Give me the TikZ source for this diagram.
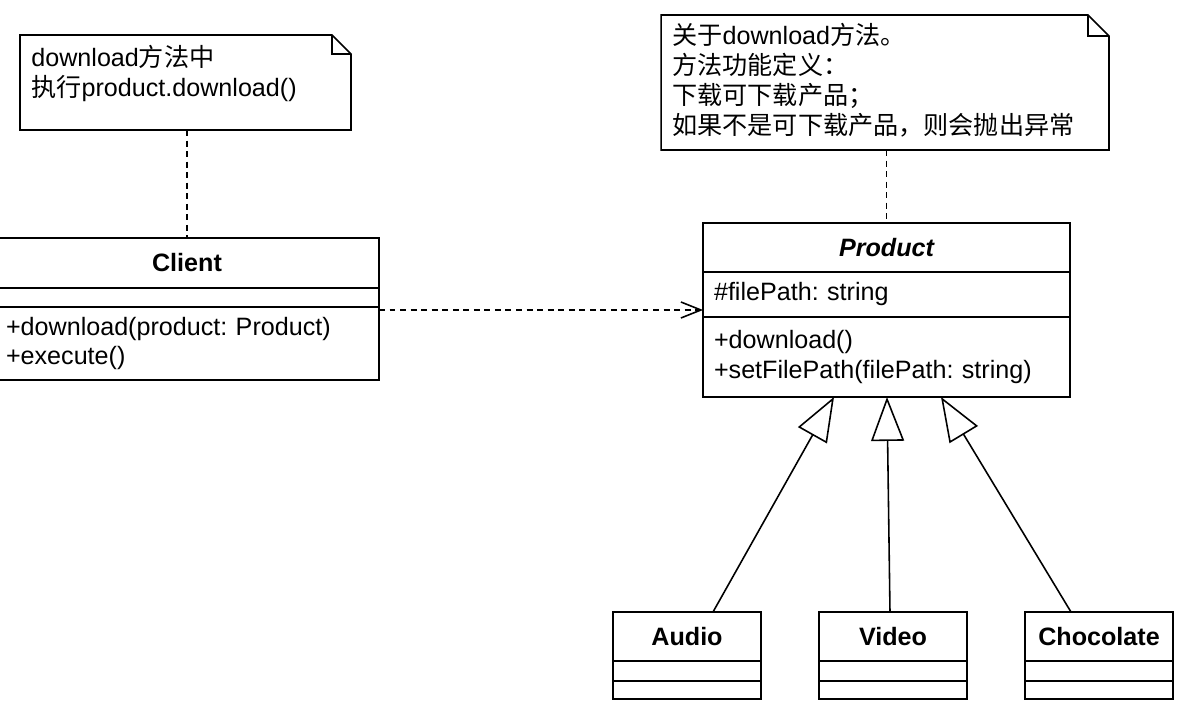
\documentclass[tikz,border=0pt]{standalone}
\usepackage{fontspec}
\setmainfont{Liberation Sans}
\newfontfamily\cjk{Noto Sans CJK SC}
\usetikzlibrary{positioning,calc,arrows.meta}
\frenchspacing
\newcommand\umlsize{\fontsize{14.3}{17}\selectfont}
\tikzset{
  uml/.style={draw, line width=0.9pt, outer sep=0pt, inner sep=0pt, minimum width=#1},
  head/.style={font=\umlsize\bfseries},
  field/.style={align=left, inner xsep=0.22cm},
  notebox/.style={inner sep=0pt, outer sep=0pt},
  notetext/.style={align=left, inner sep=0pt, anchor=north west},
  fold/.style={line width=0.9pt, line join=miter},
  tether/.style={line width=0.9pt, dash pattern=on 3.4pt off 2.6pt},
  depend/.style={tether, -{Straight Barb[length=0.4cm, width=0.32cm]}},
  extends/.style={line width=0.9pt, -{Triangle[open, length=0.88cm, width=0.66cm]}},
}

\begin{document}
\begin{tikzpicture}[x=0.02cm, y=-0.02cm, font=\umlsize]
\clip (0,0) rectangle (1178,708);
% notes
\node[notebox, minimum width=6.62cm, minimum height=1.9cm] (note1) at (185.5,82.5) {};
\draw[fold] (note1.north west) -- ($(note1.north east)+(-19,0)$) -- ($(note1.north east)+(0,19)$) -- (note1.south east) -- (note1.south west) -- cycle;
\draw[fold] ($(note1.north east)+(-19,0)$) |- ($(note1.north east)+(0,19)$);
\node[notetext] (note1-text) at ($(note1.north west)+(11,10)$) {download{\cjk 方法中}\\{\cjk 执行}product.download()};

\node[notebox, minimum width=8.96cm, minimum height=2.7cm] (note2) at (885,82.5) {};
\draw[fold] (note2.north west) -- ($(note2.north east)+(-21,0)$) -- ($(note2.north east)+(0,21)$) -- (note2.south east) -- (note2.south west) -- cycle;
\draw[fold] ($(note2.north east)+(-21,0)$) |- ($(note2.north east)+(0,21)$);
\node[notetext] (note2-text) at ($(note2.north west)+(11,8)$) {{\cjk 关于}download{\cjk 方法。}\\{\cjk 方法功能定义：}\\{\cjk 下载可下载产品；}\\{\cjk 如果不是可下载产品，则会抛出异常}};

% Client
\node[uml=7.68cm, head, minimum height=1cm] (client) at (187,263) {Client};
\node[uml=7.68cm, minimum height=0.38cm, below=0pt of client] (client-attr) {};
\node[uml=7.68cm, field, text width=7.24cm, minimum height=1.46cm, below=0pt of client-attr] (client-ops) {+download(product: Product)\\+execute()};

% Product
\node[uml=7.34cm, font=\umlsize\bfseries\itshape, minimum height=0.98cm] (product) at (886.5,247.5) {Product};
\node[uml=7.34cm, field, text width=6.9cm, minimum height=0.9cm, below=0pt of product] (product-attr) {\#filePath: string};
\node[uml=7.34cm, field, text width=6.9cm, minimum height=1.6cm, below=0pt of product-attr] (product-ops) {+download()\\+setFilePath(filePath: string)};

% subclasses
\node[uml=2.96cm, head, minimum height=0.98cm] (audio) at (687,636.5) {Audio};
\node[uml=2.96cm, minimum height=0.4cm, below=0pt of audio] (audio-attr) {};
\node[uml=2.96cm, minimum height=0.36cm, below=0pt of audio-attr] (audio-ops) {};

\node[uml=2.96cm, head, minimum height=0.98cm] (video) at (893,636.5) {Video};
\node[uml=2.96cm, minimum height=0.4cm, below=0pt of video] (video-attr) {};
\node[uml=2.96cm, minimum height=0.36cm, below=0pt of video-attr] (video-ops) {};

\node[uml=2.96cm, head, minimum height=0.98cm] (chocolate) at (1099,636.5) {Chocolate};
\node[uml=2.96cm, minimum height=0.4cm, below=0pt of chocolate] (chocolate-attr) {};
\node[uml=2.96cm, minimum height=0.36cm, below=0pt of chocolate-attr] (chocolate-ops) {};

% connectors
\draw[tether] (note1.south -| client.north) -- (client.north);
\draw[tether] (note2.south -| product.north) -- (product.north);
\coordinate (dep) at ($(client-attr.south east)+(0,3)$);
\draw[depend] (dep) -- (dep -| product-attr.west);
\draw[extends] ($(audio.north)+(26,0)$) -- ($(product-ops.south)+(-52.5,0)$);
\draw[extends] ($(video.north)+(-3,0)$) -- ($(product-ops.south)+(0.5,0)$);
\draw[extends] ($(chocolate.north)+(-28,0)$) -- ($(product-ops.south)+(54.5,0)$);
\end{tikzpicture}
\end{document}
